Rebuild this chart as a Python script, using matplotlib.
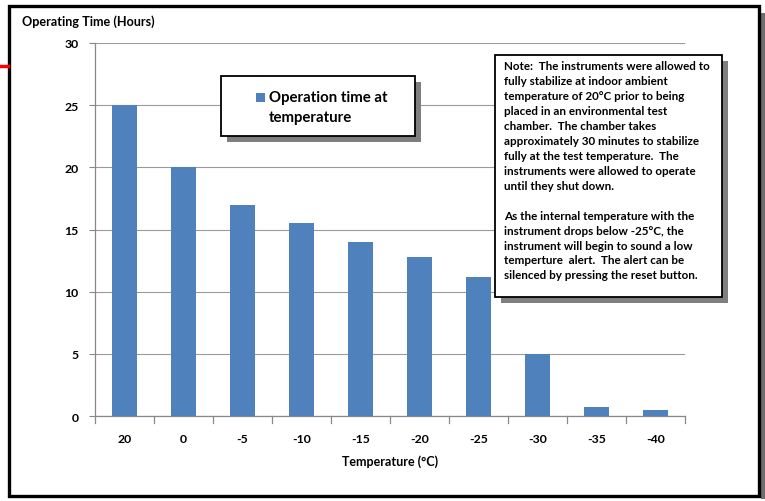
import matplotlib
matplotlib.use("Agg")
import matplotlib.pyplot as plt
from matplotlib.patches import Rectangle

temps = ["20", "0", "-5", "-10", "-15", "-20", "-25", "-30", "-35", "-40"]
hours = [25, 20, 17, 15.5, 14, 12.75, 11.2, 5, 0.75, 0.5]
yticks = [0, 5, 10, 15, 20, 25, 30]

plt.rcParams['font.family'] = ['Lato', 'DejaVu Sans']
W, H = 765, 502
fig = plt.figure(figsize=(W/100, H/100), dpi=100)

def fx(px): return px / W
def fy(py): return 1 - py / H

# outer frame with slight shadow on the right
fig.patches.append(Rectangle((fx(761), fy(500)), fx(4), (500-14)/H, transform=fig.transFigure,
                             facecolor='#6e6e6e', edgecolor='none'))
fig.patches.append(Rectangle((fx(9), fy(497)), fx(750), (497-7)/H, transform=fig.transFigure,
                             fill=False, edgecolor='black', lw=2.4))
fig.lines.append(plt.Line2D([fx(0), fx(8)], [fy(67), fy(67)], transform=fig.transFigure,
                            color='red', lw=2.5))

ax = fig.add_axes([fx(95), fy(417), fx(685-95), (417-44)/H])
x = range(len(temps))
ax.bar(x, hours, width=0.41, color='#4F81BD', zorder=3, label='Operation time at\ntemperature')
ax.set_xlim(-0.5, len(temps) - 0.5)
ax.set_ylim(0, 30)
ax.set_yticks(yticks)
ax.set_yticklabels([str(v) for v in yticks], fontweight='bold', fontsize=8.8)
ax.set_xticks(list(x))
ax.set_xticklabels(temps, fontweight='bold', fontsize=8.8)
ax.tick_params(axis='x', length=0, pad=12)
ax.tick_params(axis='y', length=4, color='#888888', pad=8)
for b in [i + 0.5 for i in range(-1, len(temps))]:
    ax.plot([b, b], [0, -0.6], color='#888888', lw=0.9, clip_on=False, zorder=2)
ax.grid(axis='y', color='#9a9a9a', lw=0.8, zorder=0)
for s in ['top', 'right']:
    ax.spines[s].set_visible(False)
for s in ['left', 'bottom']:
    ax.spines[s].set_color('#888888')
    ax.spines[s].set_linewidth(0.9)
ax.set_xlabel('Temperature (°C)', fontweight='bold', fontsize=9, labelpad=8)

fig.text(fx(22), fy(22), 'Operating Time (Hours)', fontweight='bold', fontsize=9.1,
         ha='left', va='center')

def shadow_box(x0, y0, x1, y1, off=6):
    fig.patches.append(Rectangle((fx(x0+off), fy(y1+off)), fx(x1-x0), (y1-y0)/H,
                                 transform=fig.transFigure, facecolor='#7f7f7f', edgecolor='none', zorder=4))
    fig.patches.append(Rectangle((fx(x0), fy(y1)), fx(x1-x0), (y1-y0)/H,
                                 transform=fig.transFigure, facecolor='white', edgecolor='black',
                                 lw=1.3, zorder=5))

shadow_box(221, 77, 415, 137)
fig.patches.append(Rectangle((fx(256), fy(103)), fx(9), 9/H, transform=fig.transFigure,
                             facecolor='#4F81BD', edgecolor='none', zorder=6))
fig.text(fx(269), fy(108), 'Operation time at\ntemperature', fontweight='bold', fontsize=10.8,
         ha='left', va='center', linespacing=1.5, zorder=7)

shadow_box(495, 56, 722, 298)
note = ("Note:  The instruments were allowed to\n"
        "fully stabilize at indoor ambient\n"
        "temperature of 20°C prior to being\n"
        "placed in an environmental test\n"
        "chamber.  The chamber takes\n"
        "approximately 30 minutes to stabilize\n"
        "fully at the test temperature.  The\n"
        "instruments were allowed to operate\n"
        "until they shut down.\n"
        "\n"
        "As the internal temperature with the\n"
        "instrument drops below -25°C, the\n"
        "instrument will begin to sound a low\n"
        "temperture  alert.  The alert can be\n"
        "silenced by pressing the reset button.")
fig.text(fx(504), fy(61), note, fontweight='bold', fontsize=8.4, ha='left', va='top',
         linespacing=1.44, zorder=7)

fig.savefig('out.png', dpi=100)
